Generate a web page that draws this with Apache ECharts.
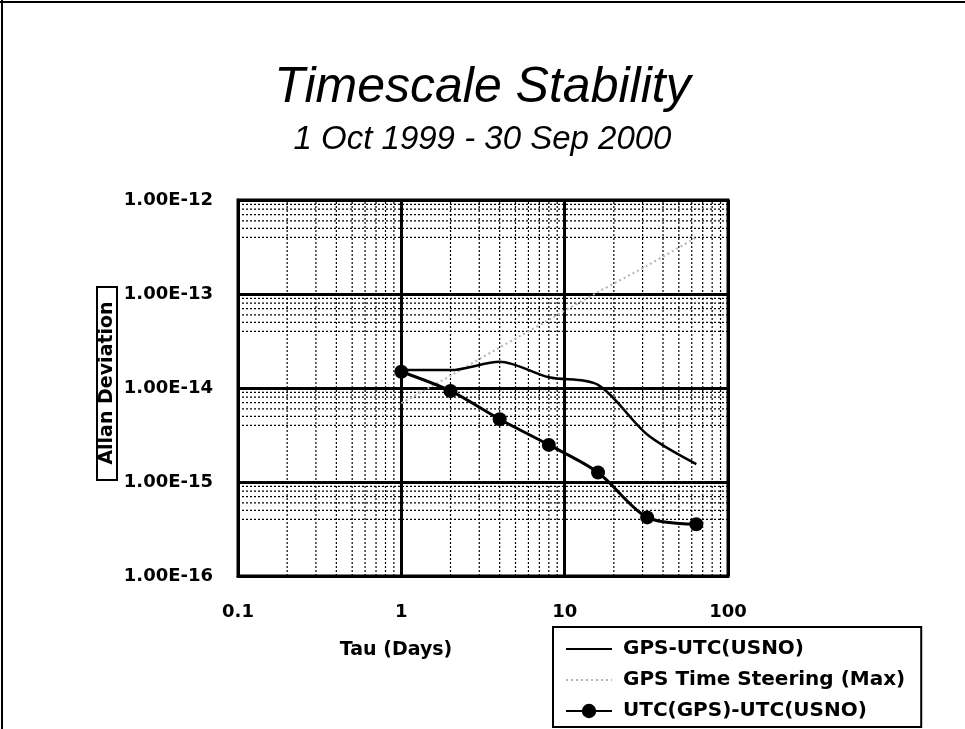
<!DOCTYPE html>
<html>
<head>
<meta charset="utf-8">
<script src="https://cdn.jsdelivr.net/npm/echarts@6/dist/echarts.min.js"></script>
<style>
html,body{margin:0;padding:0;background:#fff;}
#chart{width:965px;height:729px;}
</style>
</head>
<body>
<div id="chart"></div>
<script>
// ---- data ----
const tau = [1, 2, 4, 8, 16, 32, 64];
const gpsUtcUsno = [1.55e-14, 1.55e-14, 1.9e-14, 1.3e-14, 1.08e-14, 3.2e-15, 1.55e-15];
const gpsSteeringMax = [6.9e-15, 1.35e-14, 2.7e-14, 5.3e-14, 1.05e-13, 2.0e-13, 4.0e-13];
const utcGpsUtcUsno = [1.49e-14, 9.3e-15, 4.65e-15, 2.48e-15, 1.26e-15, 4.2e-16, 3.55e-16];
const seriesNames = ['GPS-UTC(USNO)', 'GPS Time Steering (Max)', 'UTC(GPS)-UTC(USNO)'];
const xTickLabels = ['0.1', '1', '10', '100'];
const yTickLabels = ['1.00E-16', '1.00E-15', '1.00E-14', '1.00E-13', '1.00E-12'];
const xRange = [0.1, 100];
const yRange = [1e-16, 1e-12];
const xMinor = [0.2,0.3,0.4,0.5,0.6,0.7,0.8,0.9, 2,3,4,5,6,7,8,9, 20,30,40,50,60,70,80,90];
const yMinor = [4e-16,5e-16,6e-16,7e-16,8e-16,9e-16, 4e-15,5e-15,6e-15,7e-15,8e-15,9e-15,
                4e-14,5e-14,6e-14,7e-14,8e-14,9e-14, 4e-13,5e-13,6e-13,7e-13,8e-13,9e-13];
const titleText = 'Timescale Stability';
const subtitleText = '1 Oct 1999 - 30 Sep 2000';
const xName = 'Tau (Days)';
const yName = 'Allan Deviation';

const pairs = (ys) => tau.map((t, i) => [t, ys[i]]);
const vLines = [];
xMinor.forEach(v => { vLines.push([v, yRange[0]], [v, yRange[1]], ['-', '-']); });
const hLines = [];
yMinor.forEach(v => { hLines.push([xRange[0], v], [xRange[1], v], ['-', '-']); });
const labelFont = 'DejaVu Sans';
const minorStyle = {color: '#000', width: 1.2, type: [2, 2]};

const chart = echarts.init(document.getElementById('chart'), null, {renderer: 'canvas'});
chart.setOption({
  animation: false,
  backgroundColor: '#fff',
  title: [
    {text: titleText, left: 'center', top: 58,
     textStyle: {fontFamily: 'Liberation Sans', fontStyle: 'italic', fontWeight: 'normal', fontSize: 50, color: '#000'}},
    {text: subtitleText, left: 'center', top: 118,
     textStyle: {fontFamily: 'Liberation Sans', fontStyle: 'italic', fontWeight: 'normal', fontSize: 33, color: '#000'}}
  ],
  grid: {left: 238, top: 200, width: 490, height: 376, show: true, borderColor: '#000', borderWidth: 3, backgroundColor: 'transparent'},
  xAxis: {
    type: 'log', logBase: 10, min: xRange[0], max: xRange[1],
    axisLine: {show: true, lineStyle: {color: '#000', width: 3}},
    axisTick: {show: false},
    splitLine: {show: true, lineStyle: {color: '#000', width: 3}},
    axisLabel: {
      margin: 27, color: '#000', fontFamily: labelFont, fontWeight: 'bold', fontSize: 18,
      formatter: (v) => xTickLabels[Math.round(Math.log10(v)) + 1]
    }
  },
  yAxis: {
    type: 'log', logBase: 10, min: yRange[0], max: yRange[1],
    axisLine: {show: true, lineStyle: {color: '#000', width: 3}},
    axisTick: {show: false},
    splitLine: {show: true, lineStyle: {color: '#000', width: 3}},
    axisLabel: {
      margin: 25, color: '#000', fontFamily: labelFont, fontWeight: 'bold', fontSize: 18,
      formatter: (v) => yTickLabels[Math.round(Math.log10(v)) + 16]
    }
  },
  legend: {
    data: [
      {name: seriesNames[0], itemStyle: {opacity: 0, color: 'transparent', borderWidth: 0}},
      {name: seriesNames[1], itemStyle: {opacity: 0, color: 'transparent', borderWidth: 0}},
      {name: seriesNames[2]}
    ],
    orient: 'vertical',
    left: 553, top: 627,
    borderColor: '#000', borderWidth: 2,
    padding: [12, 16, 6, 12],
    itemGap: 11,
    itemWidth: 46, itemHeight: 18,
    textStyle: {fontFamily: labelFont, fontWeight: 'bold', fontSize: 20, color: '#000', padding: [0, 0, 0, 6]},
    selectedMode: false
  },
  graphic: [
    {type: 'line', shape: {x1: 2, y1: 0, x2: 2, y2: 729}, style: {stroke: '#000', lineWidth: 2}},
    {type: 'line', shape: {x1: 0, y1: 2, x2: 965, y2: 2}, style: {stroke: '#000', lineWidth: 2}},
    {type: 'rect', shape: {x: 97, y: 287, width: 20, height: 193}, style: {fill: 'none', stroke: '#000', lineWidth: 2}},
    {type: 'text', x: 107, y: 383, rotation: Math.PI / 2,
     style: {text: yName, align: 'center', verticalAlign: 'middle', fill: '#000', font: 'bold 19px "DejaVu Sans"'}},
    {type: 'text', x: 396, y: 650,
     style: {text: xName, align: 'center', verticalAlign: 'middle', fill: '#000', font: 'bold 19px "DejaVu Sans"'}}
  ],
  series: [
    {name: 'minorX', type: 'line', data: vLines, silent: true, symbol: 'none', connectNulls: false,
     lineStyle: minorStyle, z: 1},
    {name: 'minorY', type: 'line', data: hLines, silent: true, symbol: 'none', connectNulls: false,
     lineStyle: minorStyle, z: 1},
    {
      name: seriesNames[1], type: 'line', data: pairs(gpsSteeringMax), smooth: 0.3,
      symbol: 'none', lineStyle: {color: '#b4b4b4', width: 2, type: [2, 3]}, itemStyle: {color: '#b4b4b4'}, z: 3
    },
    {
      name: seriesNames[0], type: 'line', data: pairs(gpsUtcUsno), smooth: 0.3,
      symbol: 'none', lineStyle: {color: '#000', width: 2.5}, itemStyle: {color: '#000'}, z: 4
    },
    {
      name: seriesNames[2], type: 'line', data: pairs(utcGpsUtcUsno), smooth: 0.3,
      symbol: 'circle', symbolSize: 14, lineStyle: {color: '#000', width: 3}, itemStyle: {color: '#000'}, z: 5
    }
  ]
});
</script>
</body>
</html>
